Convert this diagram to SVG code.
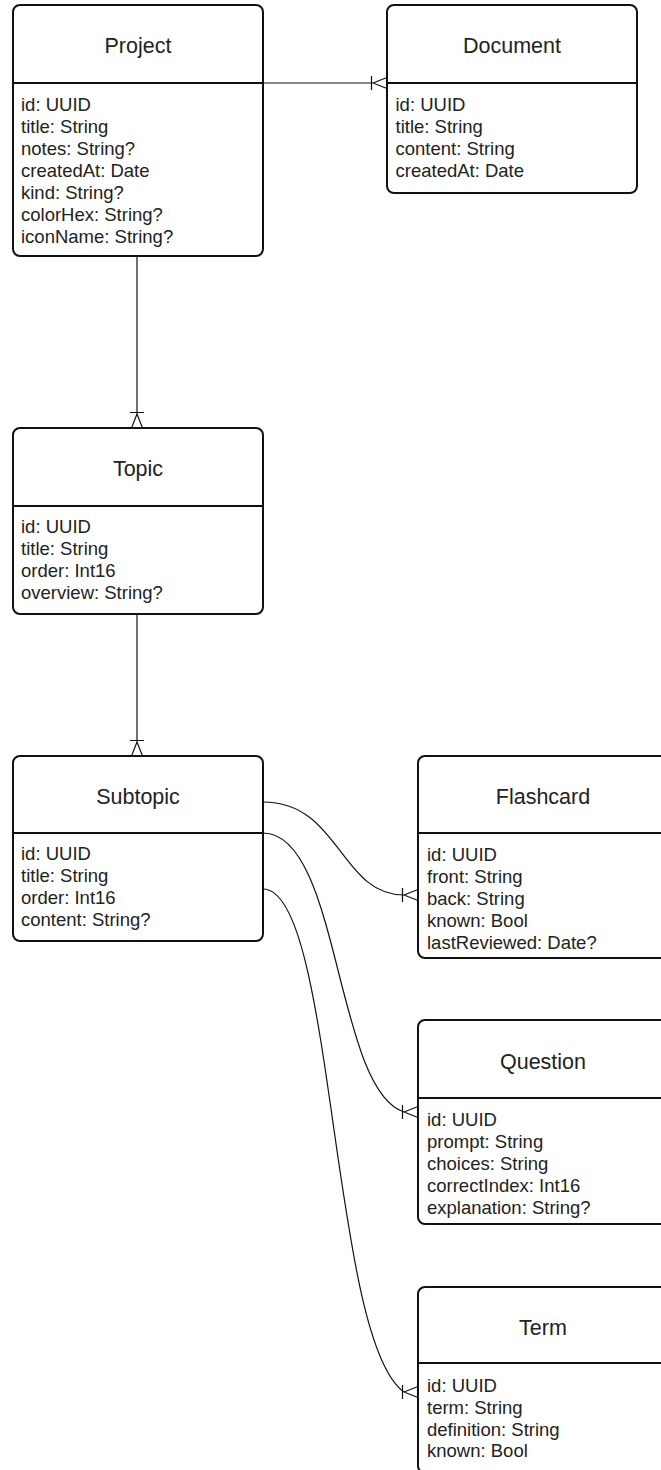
<svg xmlns="http://www.w3.org/2000/svg" width="661" height="1470" viewBox="0 0 661 1470">
  <style>
    .box { fill: #ffffff; stroke: #111111; stroke-width: 2; }
    .div { stroke: #111111; stroke-width: 2; }
    .title { font-family: "Liberation Sans", Arial, Helvetica, sans-serif; font-size: 21.5px; fill: #222222; text-anchor: middle; }
    .attr { font-family: "Liberation Sans", Arial, Helvetica, sans-serif; font-size: 18.5px; fill: #222222; }
    .conn { fill: none; stroke: #111111; stroke-width: 1.2; }
    .crow { fill: none; stroke: #111111; stroke-width: 1.2; }
  </style>
  <defs>
    <marker id="crow-h" markerUnits="userSpaceOnUse" markerWidth="20" markerHeight="20" viewBox="-4 -10 20 20" refX="0" refY="0" orient="0" overflow="visible">
      <path class="crow" d="M-1.5,-7 V7 M0,0 L14,-5.5 M0,0 L14,5.5"/>
    </marker>
    <marker id="crow-v" markerUnits="userSpaceOnUse" markerWidth="20" markerHeight="20" viewBox="-4 -10 20 20" refX="0" refY="0" orient="90" overflow="visible">
      <path class="crow" d="M-1.5,-7 V7 M0,0 L14,-5.5 M0,0 L14,5.5"/>
    </marker>
  </defs>

  <g id="connectors">
    <path class="conn" d="M263,83 H373" marker-end="url(#crow-h)"/>
    <path class="conn" d="M137,256 V414" marker-end="url(#crow-v)"/>
    <path class="conn" d="M137,614 V742" marker-end="url(#crow-v)"/>
    <path class="conn" d="M263,802 C340,802 340,895 404,895" marker-end="url(#crow-h)"/>
    <path class="conn" d="M263,833 C340,833 335,1090 404,1112" marker-end="url(#crow-h)"/>
    <path class="conn" d="M263,889 C335,889 330,1340 404,1392" marker-end="url(#crow-h)"/>
  </g>

  <g id="project">
    <rect class="box" x="13" y="5" width="250" height="251" rx="7"/>
    <line class="div" x1="13" y1="83" x2="263" y2="83"/>
    <text class="title" x="138" y="53">Project</text>
    <text class="attr" x="21" y="111">id: UUID</text>
    <text class="attr" x="21" y="133">title: String</text>
    <text class="attr" x="21" y="155">notes: String?</text>
    <text class="attr" x="21" y="177">createdAt: Date</text>
    <text class="attr" x="21" y="199">kind: String?</text>
    <text class="attr" x="21" y="221">colorHex: String?</text>
    <text class="attr" x="21" y="243">iconName: String?</text>
  </g>

  <g id="document">
    <rect class="box" x="387" y="5" width="250" height="188" rx="7"/>
    <line class="div" x1="387" y1="83" x2="637" y2="83"/>
    <text class="title" x="512" y="53">Document</text>
    <text class="attr" x="395.5" y="111">id: UUID</text>
    <text class="attr" x="395.5" y="133">title: String</text>
    <text class="attr" x="395.5" y="155">content: String</text>
    <text class="attr" x="395.5" y="177">createdAt: Date</text>
  </g>

  <g id="topic">
    <rect class="box" x="13" y="428" width="250" height="186" rx="7"/>
    <line class="div" x1="13" y1="506" x2="263" y2="506"/>
    <text class="title" x="138" y="476">Topic</text>
    <text class="attr" x="21" y="533">id: UUID</text>
    <text class="attr" x="21" y="555">title: String</text>
    <text class="attr" x="21" y="577">order: Int16</text>
    <text class="attr" x="21" y="599">overview: String?</text>
  </g>

  <g id="subtopic">
    <rect class="box" x="13" y="756" width="250" height="185" rx="7"/>
    <line class="div" x1="13" y1="833" x2="263" y2="833"/>
    <text class="title" x="138" y="803.5">Subtopic</text>
    <text class="attr" x="21" y="860">id: UUID</text>
    <text class="attr" x="21" y="882">title: String</text>
    <text class="attr" x="21" y="904">order: Int16</text>
    <text class="attr" x="21" y="926">content: String?</text>
  </g>

  <g id="flashcard">
    <rect class="box" x="418" y="756" width="250" height="202" rx="7"/>
    <line class="div" x1="418" y1="833" x2="668" y2="833"/>
    <text class="title" x="543" y="803.5">Flashcard</text>
    <text class="attr" x="427" y="861">id: UUID</text>
    <text class="attr" x="427" y="883">front: String</text>
    <text class="attr" x="427" y="905">back: String</text>
    <text class="attr" x="427" y="927">known: Bool</text>
    <text class="attr" x="427" y="949">lastReviewed: Date?</text>
  </g>

  <g id="question">
    <rect class="box" x="418" y="1020" width="250" height="204" rx="7"/>
    <line class="div" x1="418" y1="1098" x2="668" y2="1098"/>
    <text class="title" x="543" y="1068.5">Question</text>
    <text class="attr" x="427" y="1126">id: UUID</text>
    <text class="attr" x="427" y="1148">prompt: String</text>
    <text class="attr" x="427" y="1170">choices: String</text>
    <text class="attr" x="427" y="1192">correctIndex: Int16</text>
    <text class="attr" x="427" y="1214">explanation: String?</text>
  </g>

  <g id="term">
    <rect class="box" x="418" y="1287" width="250" height="186" rx="7"/>
    <line class="div" x1="418" y1="1363" x2="668" y2="1363"/>
    <text class="title" x="543" y="1334.5">Term</text>
    <text class="attr" x="427" y="1392">id: UUID</text>
    <text class="attr" x="427" y="1414">term: String</text>
    <text class="attr" x="427" y="1435.5">definition: String</text>
    <text class="attr" x="427" y="1457">known: Bool</text>
  </g>
</svg>
